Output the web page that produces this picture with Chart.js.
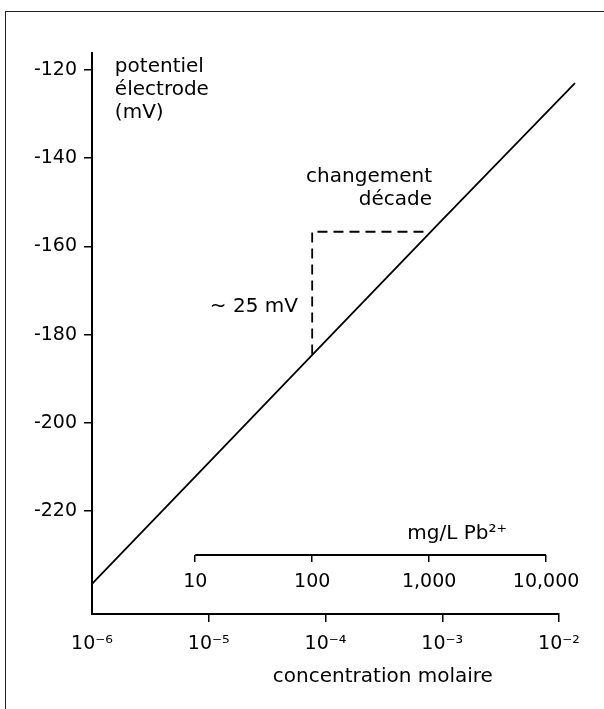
<!DOCTYPE html>
<html>
<head>
<meta charset="utf-8">
<script src="https://cdn.jsdelivr.net/npm/chart.js@4/dist/chart.umd.min.js"></script>
<style>
  html, body { margin: 0; padding: 0; background: #fff; }
  .wrap { position: relative; width: 604px; height: 709px; overflow: hidden; }
  .frame { position: absolute; left: 5px; top: 11px; width: 700px; height: 800px;
           border-left: 1.3px solid #222; border-top: 1.3px solid #222; }
  canvas { position: absolute; left: 0; top: 0; }
</style>
</head>
<body>
<div class="wrap">
  <div class="frame"></div>
  <canvas id="chart" width="604" height="709"></canvas>
</div>
<script>
  // molar concentration axis (log)
  const molarTicks = [1e-6, 1e-5, 1e-4, 1e-3, 1e-2];
  const molarTickLabels = ['10⁻⁶', '10⁻⁵', '10⁻⁴', '10⁻³', '10⁻²'];
  const molarMin = 1e-6, molarMax = 1e-2;

  // mg/L Pb2+ axis (log, drawn inside the plot)
  const mgTicks = [10, 100, 1000, 10000];
  const mgTickLabels = ['10', '100', '1,000', '10,000'];
  const mgMin = 1.31, mgMax = 12900;
  const mgAxisAt = -230; // potential value where the mg/L axis sits

  // electrode potential axis (mV)
  const potentialTicks = [-220, -200, -180, -160, -140, -120];
  const potentialMin = -243.3, potentialMax = -116.2;

  // electrode response line (runs a bit past 10^-2)
  const lineConc = [1e-6, 1e-5, 1e-4, 1e-3, 0.0137];
  const linePotential = [-236.5, -209, -181.5, -154, -123];

  // dashed "one decade" step, in mg/L
  const decadeMg = [100, 100, 1000];
  const decadePotential = [-184.5, -156.7, -156.7];

  const FONT = '"DejaVu Sans", "Liberation Sans", sans-serif';
  const INK = '#000';

  // text notes, anchored on data values
  const notes = [
    { x: 1.57e-6, y: -120.5, align: 'left', lines: ['potentiel', 'électrode', '(mV)'] },
    { x: 8.17e-4, y: -145.4, align: 'right', lines: ['changement', 'décade'] },
    { x: 5.8e-5, y: -174.9, align: 'right', lines: ['~ 25 mV'] },
    { x: 1.34e-3, y: -226.3, align: 'center', lines: ['mg/L Pb²⁺'] },
    { x: 3.1e-4, y: -258.8, align: 'center', lines: ['concentration molaire'] }
  ];

  const notesPlugin = {
    id: 'notes',
    afterDraw(chart) {
      const { ctx, scales } = chart;
      const x = scales.x, y = scales.y, mg = scales.mg;
      ctx.save();
      // mg/L axis line, only between its first and last tick
      const ay = Math.round(y.getPixelForValue(mgAxisAt));
      ctx.strokeStyle = INK;
      ctx.lineWidth = 2;
      ctx.beginPath();
      ctx.moveTo(mg.getPixelForValue(mgTicks[0]), ay);
      ctx.lineTo(mg.getPixelForValue(mgTicks[mgTicks.length - 1]), ay);
      ctx.stroke();

      ctx.fillStyle = INK;
      ctx.font = '20px ' + FONT;
      ctx.textBaseline = 'alphabetic';
      notes.forEach(n => {
        ctx.textAlign = n.align;
        const px = x.getPixelForValue(n.x);
        const py = y.getPixelForValue(n.y);
        n.lines.forEach((line, i) => ctx.fillText(line, px, py + i * 23));
      });
      ctx.restore();
    }
  };

  const ctx = document.getElementById('chart').getContext('2d');
  new Chart(ctx, {
    type: 'line',
    data: {
      datasets: [{
        data: lineConc.map((c, i) => ({ x: c, y: linePotential[i] })),
        xAxisID: 'x',
        borderColor: INK,
        borderWidth: 1.8,
        pointRadius: 0,
        tension: 0,
        clip: false
      }, {
        data: decadeMg.map((m, i) => ({ x: m, y: decadePotential[i] })),
        xAxisID: 'mg',
        borderColor: INK,
        borderWidth: 1.8,
        borderDash: [10, 6],
        pointRadius: 0,
        tension: 0
      }]
    },
    options: {
      responsive: false,
      animation: false,
      devicePixelRatio: 1,
      layout: { padding: { left: 0, top: 53, right: 45, bottom: 0 } },
      plugins: { legend: { display: false }, tooltip: { enabled: false } },
      scales: {
        x: {
          type: 'logarithmic',
          position: 'bottom',
          min: molarMin,
          max: molarMax,
          afterBuildTicks: s => { s.ticks = molarTicks.map(v => ({ value: v })); },
          afterFit: s => { s.height = 95; },
          border: { display: true, color: INK, width: 2 },
          grid: {
            drawOnChartArea: false,
            drawTicks: true,
            tickLength: 8,
            lineWidth: 1.5,
            color: c => (c.index === 0 ? 'rgba(0,0,0,0)' : INK)
          },
          ticks: {
            color: INK,
            font: { family: FONT, size: 19 },
            padding: 11,
            maxRotation: 0,
            autoSkip: false,
            callback: (v, i) => molarTickLabels[i]
          }
        },
        mg: {
          type: 'logarithmic',
          axis: 'x',
          position: { y: mgAxisAt },
          min: mgMin,
          max: mgMax,
          afterBuildTicks: s => { s.ticks = mgTicks.map(v => ({ value: v })); },
          border: { display: false },
          grid: {
            drawOnChartArea: false,
            drawTicks: true,
            tickLength: 7,
            lineWidth: 1.5,
            color: INK
          },
          ticks: {
            color: INK,
            font: { family: FONT, size: 19 },
            padding: 8,
            maxRotation: 0,
            autoSkip: false,
            callback: (v, i) => mgTickLabels[i]
          }
        },
        y: {
          type: 'linear',
          position: 'left',
          min: potentialMin,
          max: potentialMax,
          afterBuildTicks: s => { s.ticks = potentialTicks.map(v => ({ value: v })); },
          afterFit: s => { s.width = 92; },
          border: { display: true, color: INK, width: 2 },
          grid: {
            drawOnChartArea: false,
            drawTicks: true,
            tickLength: 8,
            lineWidth: 1.5,
            color: INK
          },
          ticks: {
            color: INK,
            font: { family: FONT, size: 19 },
            padding: 7
          }
        }
      }
    },
    plugins: [notesPlugin]
  });
</script>
</body>
</html>
